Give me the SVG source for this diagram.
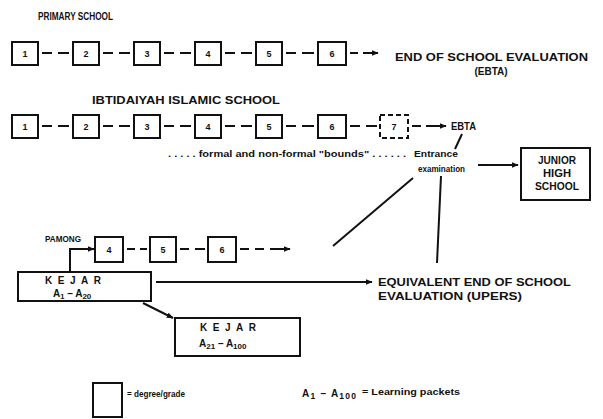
<svg xmlns="http://www.w3.org/2000/svg" width="603" height="419" viewBox="0 0 603 419">
<style>
text{font-family:"Liberation Sans","DejaVu Sans",sans-serif;font-weight:bold;fill:#111}
.t{font-size:10px}
.n{font-size:9px;text-anchor:middle}
.s{font-size:8.5px}
.box{fill:#fff;stroke:#111;stroke-width:2}
.dbox{fill:#fff;stroke:#111;stroke-width:2;stroke-dasharray:5 3}
.dash{stroke:#111;stroke-width:2;fill:none}
.ln{stroke:#111;stroke-width:2;fill:none}
</style>
<defs>
<marker id="ah" viewBox="0 0 10 10" refX="9" refY="5" markerWidth="7" markerHeight="7" orient="auto" markerUnits="userSpaceOnUse">
<path d="M0,1 L10,5 L0,9 z" fill="#111"/>
</marker>
</defs>
<rect width="603" height="419" fill="#fff"/>

<text class="t" x="38" y="20" font-size="9.5" textLength="75" lengthAdjust="spacingAndGlyphs">PRIMARY SCHOOL</text>
<g id="primary">
<rect class="box" x="12" y="42" width="26" height="23"/><text class="n" x="25" y="57">1</text>
<rect class="box" x="73" y="42" width="26" height="23"/><text class="n" x="86" y="57">2</text>
<rect class="box" x="134" y="42" width="26" height="23"/><text class="n" x="147" y="57">3</text>
<rect class="box" x="195" y="42" width="26" height="23"/><text class="n" x="208" y="57">4</text>
<rect class="box" x="256" y="42" width="26" height="23"/><text class="n" x="269" y="57">5</text>
<rect class="box" x="318" y="42" width="28" height="23"/><text class="n" x="332" y="57">6</text>
</g>
<text class="t" x="395" y="61" textLength="193" lengthAdjust="spacingAndGlyphs">END OF SCHOOL EVALUATION</text>
<text class="t" x="491" y="75" text-anchor="middle">(EBTA)</text>

<text class="t" x="92" y="104" textLength="188" lengthAdjust="spacingAndGlyphs">IBTIDAIYAH ISLAMIC SCHOOL</text>
<g id="islamic">
<rect class="box" x="12" y="115" width="26" height="23"/><text class="n" x="25" y="130">1</text>
<rect class="box" x="73" y="115" width="26" height="23"/><text class="n" x="86" y="130">2</text>
<rect class="box" x="134" y="115" width="26" height="23"/><text class="n" x="147" y="130">3</text>
<rect class="box" x="195" y="115" width="26" height="23"/><text class="n" x="208" y="130">4</text>
<rect class="box" x="256" y="115" width="26" height="23"/><text class="n" x="269" y="130">5</text>
<rect class="box" x="318" y="115" width="28" height="23"/><text class="n" x="332" y="130">6</text>
<rect class="dbox" x="380" y="115" width="28" height="23"/><text class="n" x="394" y="130">7</text>
</g>
<text class="t" x="451" y="130" textLength="25" lengthAdjust="spacingAndGlyphs">EBTA</text>
<text class="s" x="168" y="157" textLength="238" lengthAdjust="spacingAndGlyphs">. . . . . formal and non-formal "bounds" . . . . . .</text>
<text class="s" x="414" y="157" textLength="44" lengthAdjust="spacingAndGlyphs">Entrance</text>
<text class="s" x="418" y="172" textLength="47" lengthAdjust="spacingAndGlyphs">examination</text>

<g id="junior">
<rect class="box" x="521" y="148" width="69" height="52"/>
<text class="t" x="557" y="164" text-anchor="middle" textLength="38" lengthAdjust="spacingAndGlyphs">JUNIOR</text>
<text class="t" x="557" y="177" text-anchor="middle" textLength="28" lengthAdjust="spacingAndGlyphs">HIGH</text>
<text class="t" x="557" y="190" text-anchor="middle" textLength="44" lengthAdjust="spacingAndGlyphs">SCHOOL</text>
</g>

<text class="s" x="45" y="242" textLength="36" lengthAdjust="spacingAndGlyphs">PAMONG</text>
<g id="pamong">
<rect class="box" x="95" y="237" width="28" height="25"/><text class="n" x="109" y="253">4</text>
<rect class="box" x="150" y="237" width="26" height="25"/><text class="n" x="163" y="253">5</text>
<rect class="box" x="208" y="237" width="28" height="25"/><text class="n" x="222" y="253">6</text>
</g>

<g id="kejar1">
<rect class="box" x="18" y="272" width="133" height="29"/>
<text class="t" x="45" y="284" textLength="56" lengthAdjust="spacing">KEJAR</text>
<text class="t" x="53" y="297" font-size="11">A<tspan font-size="7.5" dy="2">1</tspan><tspan dy="-2"> – A</tspan><tspan font-size="8" dy="2">20</tspan></text>
</g>
<text class="t" x="378" y="286" textLength="193" lengthAdjust="spacingAndGlyphs">EQUIVALENT END OF SCHOOL</text>
<text class="t" x="378" y="300" textLength="144" lengthAdjust="spacingAndGlyphs">EVALUATION (UPERS)</text>

<g id="kejar2">
<rect class="box" x="175" y="318" width="125" height="38"/>
<text class="t" x="200" y="331" textLength="56" lengthAdjust="spacing">KEJAR</text>
<text class="t" x="199" y="347" font-size="11">A<tspan font-size="8" dy="2">21</tspan><tspan dy="-2"> – A</tspan><tspan font-size="8" dy="2">100</tspan></text>
</g>

<g id="legend">
<rect class="box" x="93" y="383" width="29" height="34"/>
<text class="s" x="127" y="397" font-size="7.5" textLength="58" lengthAdjust="spacingAndGlyphs">= degree/grade</text>
<text class="t" x="302" y="397" font-size="11.5" textLength="54" lengthAdjust="spacing">A<tspan font-size="8.5" dy="2">1</tspan><tspan dy="-2"> – A</tspan><tspan font-size="8.5" dy="2">100</tspan></text>
<text class="s" x="362" y="395" textLength="98" lengthAdjust="spacingAndGlyphs">= Learning packets</text>
</g>

<g id="connectors">
<path class="dash" d="M42,53 H52 M58,53 H69 M103,53 H113 M119,53 H130 M164,53 H174 M180,53 H191 M225,53 H235 M241,53 H252 M286,53 H296 M302,53 H314"/>
<path class="dash" d="M350,53 H358 M363,53 H370"/>
<path class="ln" d="M370,53 H378" marker-end="url(#ah)"/>
<path class="dash" d="M42,126 H52 M58,126 H69 M103,126 H113 M119,126 H130 M164,126 H174 M180,126 H191 M225,126 H235 M241,126 H252 M286,126 H296 M302,126 H314 M350,126 H360 M366,126 H377"/>
<path class="dash" d="M412,126 H421 M426,126 H434"/>
<path class="ln" d="M434,126 H446" marker-end="url(#ah)"/>
<path class="ln" d="M462,134 L455,149"/>
<path class="ln" d="M478,165 H518" marker-end="url(#ah)"/>
<path class="ln" d="M413,178 L333,246"/>
<path class="ln" d="M441,176 L437,263"/>
<path class="dash" d="M127,249 H135 M140,249 H147 M180,249 H189 M195,249 H205"/>
<path class="dash" d="M240,249 H249 M255,249 H264 M270,249 H279"/>
<path class="ln" d="M279,249 H290" marker-end="url(#ah)"/>
<path class="ln" d="M70,272 V249 H94" marker-end="url(#ah)"/>
<path class="ln" d="M156,282 H372" marker-end="url(#ah)"/>
<path class="ln" d="M143,303 L173,318" marker-end="url(#ah)"/>
</g>
</svg>
